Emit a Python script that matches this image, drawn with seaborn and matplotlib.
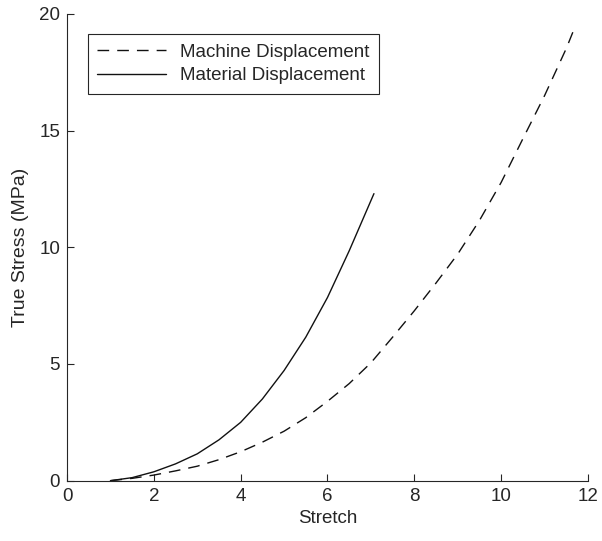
import matplotlib
matplotlib.use("Agg")
import matplotlib.pyplot as plt
import seaborn as sns
import pandas as pd

# Machine displacement (dashed)
machine_stretch = [1.0, 1.5, 2.0, 2.5, 3.0, 3.5, 4.0, 4.5, 5.0, 5.5, 6.0, 6.5, 7.0,
                   7.5, 8.0, 8.5, 9.0, 9.5, 10.0, 10.5, 11.0, 11.5, 11.68]
machine_stress = [0.0, 0.10, 0.24, 0.42, 0.62, 0.90, 1.24, 1.65, 2.12, 2.70, 3.40, 4.16, 5.05,
                  6.15, 7.28, 8.47, 9.71, 11.15, 12.78, 14.65, 16.50, 18.52, 19.35]

# Material displacement (solid)
material_stretch = [1.0, 1.5, 2.0, 2.5, 3.0, 3.5, 4.0, 4.5, 5.0, 5.5, 6.0, 6.5, 7.0, 7.07]
material_stress = [0.0, 0.13, 0.38, 0.72, 1.15, 1.75, 2.50, 3.50, 4.72, 6.15, 7.85, 9.85, 12.00, 12.30]

labels = ["Machine Displacement", "Material Displacement"]
x_ticks = [0, 2, 4, 6, 8, 10, 12]
y_ticks = [0, 5, 10, 15, 20]

sns.set_style("ticks")
plt.rcParams["font.family"] = ["Liberation Sans", "DejaVu Sans"]
txt = "#262626"
plt.rcParams.update({
    "axes.edgecolor": txt, "xtick.color": txt, "ytick.color": txt,
    "axes.labelcolor": txt, "text.color": txt,
    "xtick.direction": "in", "ytick.direction": "in",
    "xtick.major.size": 5, "ytick.major.size": 5,
    "axes.linewidth": 0.8,
})

fig = plt.figure(figsize=(6.02, 5.41), dpi=100)
ax = fig.add_axes([0.1113, 0.1115, 0.8654, 0.8627])

df_m = pd.DataFrame({"Stretch": machine_stretch, "Stress": machine_stress})
df_t = pd.DataFrame({"Stretch": material_stretch, "Stress": material_stress})

sns.lineplot(data=df_m, x="Stretch", y="Stress", ax=ax, color="#111111", lw=1.0,
             linestyle=(0, (8.4, 5.8)), label=labels[0], sort=False)
sns.lineplot(data=df_t, x="Stretch", y="Stress", ax=ax, color="#111111", lw=1.0,
             linestyle="-", label=labels[1], sort=False)

ax.set_xlim(0, 12)
ax.set_ylim(0, 20)
ax.set_xticks(x_ticks)
ax.set_yticks(y_ticks)
ax.tick_params(labelsize=13.5, width=0.8, pad=5)
ax.set_xlabel("Stretch", fontsize=13.5, labelpad=4)
ax.set_ylabel("True Stress (MPa)", fontsize=14, labelpad=7)
sns.despine(ax=ax)

leg = ax.legend(loc="upper left", bbox_to_anchor=(0.0397, 0.957), fontsize=13.5,
                frameon=True, fancybox=False, handlelength=3.7, borderpad=0.5,
                labelspacing=0.35, handletextpad=0.75, borderaxespad=0)
leg.get_frame().set_edgecolor(txt)
leg.get_frame().set_linewidth(0.8)
leg.get_frame().set_alpha(1)

fig.savefig("out.png", dpi=100)
